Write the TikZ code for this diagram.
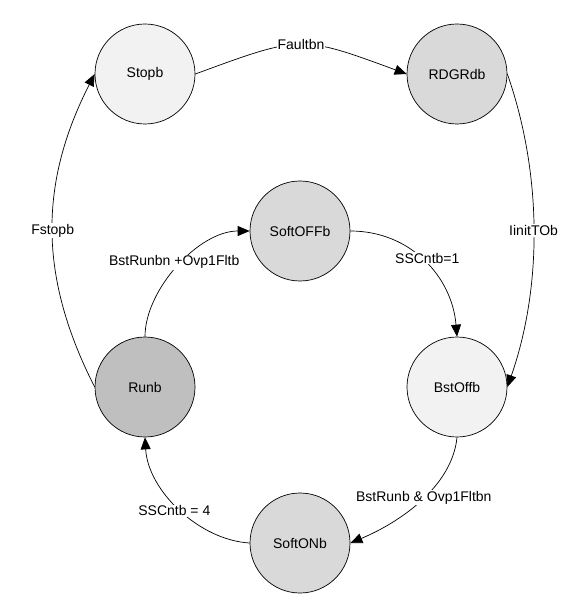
\documentclass[tikz,border=0pt]{standalone}
\usepackage{fontspec}
\setmainfont{Liberation Sans}
\usetikzlibrary{arrows.meta}
\definecolor{lightg}{HTML}{F2F2F2}
\definecolor{midg}{HTML}{D9D9D9}
\definecolor{darkg}{HTML}{BFBFBF}
\begin{document}
\begin{tikzpicture}[x=1pt,y=-1pt,
  font=\fontsize{14}{16}\selectfont,
  state/.style={circle,draw=black,line width=0.7pt,minimum size=100pt,inner sep=0pt},
  trans/.style={draw=black,line width=0.7pt,-{Triangle[length=12pt,width=10pt]}},
  lbl/.style={fill=white,inner sep=1pt}]
\useasboundingbox (0,0) rectangle (578,609);
\node[state,fill=lightg] (stop) at (145,74) {Stopb};
\node[state,fill=midg] (rdgr) at (457,74) {RDGRdb};
\node[state,fill=midg] (soff) at (300,231) {SoftOFFb};
\node[state,fill=lightg] (bst) at (457,387) {BstOffb};
\node[state,fill=darkg] (run) at (145,387) {Runb};
\node[state,fill=midg] (son) at (300,543) {SoftONb};
\draw[trans] (stop.east) .. controls +(106,-39) and +(-106,-39) .. node[lbl,pos=0.5] {Faultbn} (rdgr.west);
\draw[trans] (rdgr.east) .. controls +(35,100) and +(35,-100) .. node[lbl,pos=0.5] {IinitTOb} (bst.east);
\draw[trans] (soff.east) .. controls +(60,0) and +(-5,-60) .. node[lbl,pos=0.5,xshift=3pt,yshift=3pt] {SSCntb=1} (bst.north);
\draw[trans] (bst.south) .. controls +(-5,50) and +(48,-20) .. node[lbl,pos=0.5,xshift=4pt,yshift=4pt] {BstRunb \& Ovp1Fltbn} (son.east);
\draw[trans] (son.west) .. controls +(-51,-3) and +(3,53) .. node[lbl,pos=0.5,xshift=-5pt,yshift=-2pt] {SSCntb = 4} (run.south);
\draw[trans] (run.north) .. controls +(0,-47) and +(-51,0) .. node[lbl,pos=0.5,xshift=-4pt,yshift=4pt] {BstRunbn +Ovp1Fltb} (soff.west);
\draw[trans] (run.west) .. controls +(-56,-110) and +(-56,110) .. node[lbl,pos=0.5] {Fstopb} (stop.west);
\end{tikzpicture}
\end{document}
